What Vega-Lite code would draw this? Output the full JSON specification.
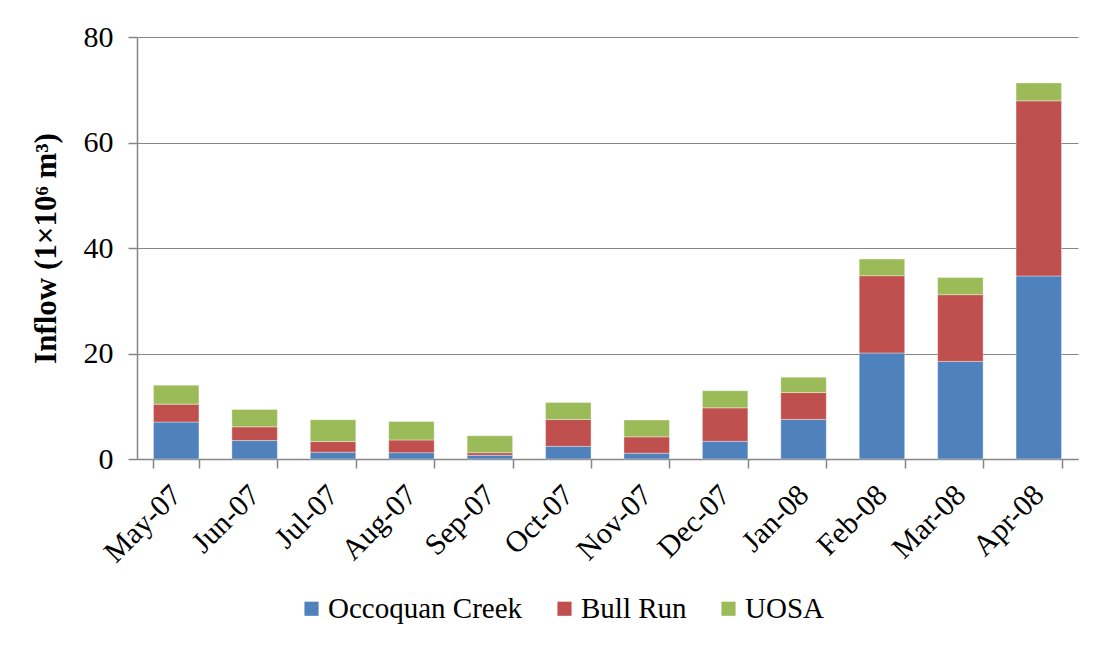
{
  "$schema": "https://vega.github.io/schema/vega-lite/v6.json",
  "autosize": "none",
  "width": 941,
  "height": 422,
  "padding": {"left": 137, "top": 37, "right": 21, "bottom": 187},
  "background": "white",
  "data": {"values": [
    {"month": "May-07", "source": "Occoquan Creek", "ord": 1, "value": 7.0},
    {"month": "May-07", "source": "Bull Run", "ord": 2, "value": 3.4},
    {"month": "May-07", "source": "UOSA", "ord": 3, "value": 3.6},
    {"month": "Jun-07", "source": "Occoquan Creek", "ord": 1, "value": 3.5},
    {"month": "Jun-07", "source": "Bull Run", "ord": 2, "value": 2.6},
    {"month": "Jun-07", "source": "UOSA", "ord": 3, "value": 3.3},
    {"month": "Jul-07", "source": "Occoquan Creek", "ord": 1, "value": 1.3},
    {"month": "Jul-07", "source": "Bull Run", "ord": 2, "value": 2.0},
    {"month": "Jul-07", "source": "UOSA", "ord": 3, "value": 4.15},
    {"month": "Aug-07", "source": "Occoquan Creek", "ord": 1, "value": 1.2},
    {"month": "Aug-07", "source": "Bull Run", "ord": 2, "value": 2.4},
    {"month": "Aug-07", "source": "UOSA", "ord": 3, "value": 3.5},
    {"month": "Sep-07", "source": "Occoquan Creek", "ord": 1, "value": 0.7},
    {"month": "Sep-07", "source": "Bull Run", "ord": 2, "value": 0.5},
    {"month": "Sep-07", "source": "UOSA", "ord": 3, "value": 3.2},
    {"month": "Oct-07", "source": "Occoquan Creek", "ord": 1, "value": 2.4},
    {"month": "Oct-07", "source": "Bull Run", "ord": 2, "value": 5.1},
    {"month": "Oct-07", "source": "UOSA", "ord": 3, "value": 3.2},
    {"month": "Nov-07", "source": "Occoquan Creek", "ord": 1, "value": 1.1},
    {"month": "Nov-07", "source": "Bull Run", "ord": 2, "value": 3.1},
    {"month": "Nov-07", "source": "UOSA", "ord": 3, "value": 3.2},
    {"month": "Dec-07", "source": "Occoquan Creek", "ord": 1, "value": 3.35},
    {"month": "Dec-07", "source": "Bull Run", "ord": 2, "value": 6.35},
    {"month": "Dec-07", "source": "UOSA", "ord": 3, "value": 3.25},
    {"month": "Jan-08", "source": "Occoquan Creek", "ord": 1, "value": 7.5},
    {"month": "Jan-08", "source": "Bull Run", "ord": 2, "value": 5.1},
    {"month": "Jan-08", "source": "UOSA", "ord": 3, "value": 2.9},
    {"month": "Feb-08", "source": "Occoquan Creek", "ord": 1, "value": 20.1},
    {"month": "Feb-08", "source": "Bull Run", "ord": 2, "value": 14.65},
    {"month": "Feb-08", "source": "UOSA", "ord": 3, "value": 3.15},
    {"month": "Mar-08", "source": "Occoquan Creek", "ord": 1, "value": 18.5},
    {"month": "Mar-08", "source": "Bull Run", "ord": 2, "value": 12.65},
    {"month": "Mar-08", "source": "UOSA", "ord": 3, "value": 3.25},
    {"month": "Apr-08", "source": "Occoquan Creek", "ord": 1, "value": 34.7},
    {"month": "Apr-08", "source": "Bull Run", "ord": 2, "value": 33.2},
    {"month": "Apr-08", "source": "UOSA", "ord": 3, "value": 3.4}
  ]},
  "mark": {"type": "bar", "stroke": "white", "strokeWidth": 0.6, "strokeOpacity": 0.6},
  "encoding": {
    "x": {
      "field": "month", "type": "nominal", "sort": null,
      "scale": {"paddingInner": 0.42, "paddingOuter": 0.21},
      "axis": {
        "title": null, "labelAngle": -45, "labelAlign": "right", "labelBaseline": "middle",
        "labelFont": "Liberation Serif", "labelFontSize": 30,
        "labelColor": "black", "domainColor": "#868686", "domainWidth": 1.5, "tickColor": "#868686",
        "tickWidth": 1.5, "tickSize": 9, "tickBand": "extent", "labelPadding": 22, "labelLimit": 0
      }
    },
    "y": {
      "field": "value", "type": "quantitative", "stack": "zero",
      "scale": {"domain": [0, 80], "nice": false},
      "axis": {
        "values": [0, 20, 40, 60, 80], "title": "Inflow (1×10⁶ m³)", "titleFont": "Liberation Serif",
        "titleFontSize": 31, "titleFontWeight": "bold", "titleColor": "black", "titlePadding": 21,
        "labelFont": "Liberation Serif", "labelFontSize": 30, "labelColor": "black", "labelPadding": 15,
        "domainColor": "#868686", "domainWidth": 1.5, "tickColor": "#868686", "tickWidth": 1.5, "tickSize": 9,
        "grid": true, "gridColor": "#868686", "gridWidth": 1.2
      }
    },
    "color": {
      "field": "source", "type": "nominal",
      "scale": {"domain": ["Occoquan Creek", "Bull Run", "UOSA"], "range": ["#4F81BD", "#C0504D", "#9BBB59"]},
      "legend": {
        "title": null, "orient": "none", "legendX": 160, "legendY": 557, "direction": "horizontal",
        "labelFont": "Liberation Serif", "labelFontSize": 29, "labelColor": "black", "labelLimit": 0,
        "symbolType": "square", "symbolSize": 200, "symbolStrokeWidth": 0, "columnPadding": 27, "labelOffset": 2
      }
    },
    "order": {"field": "ord", "type": "quantitative"}
  },
  "config": {"view": {"stroke": null}}
}
